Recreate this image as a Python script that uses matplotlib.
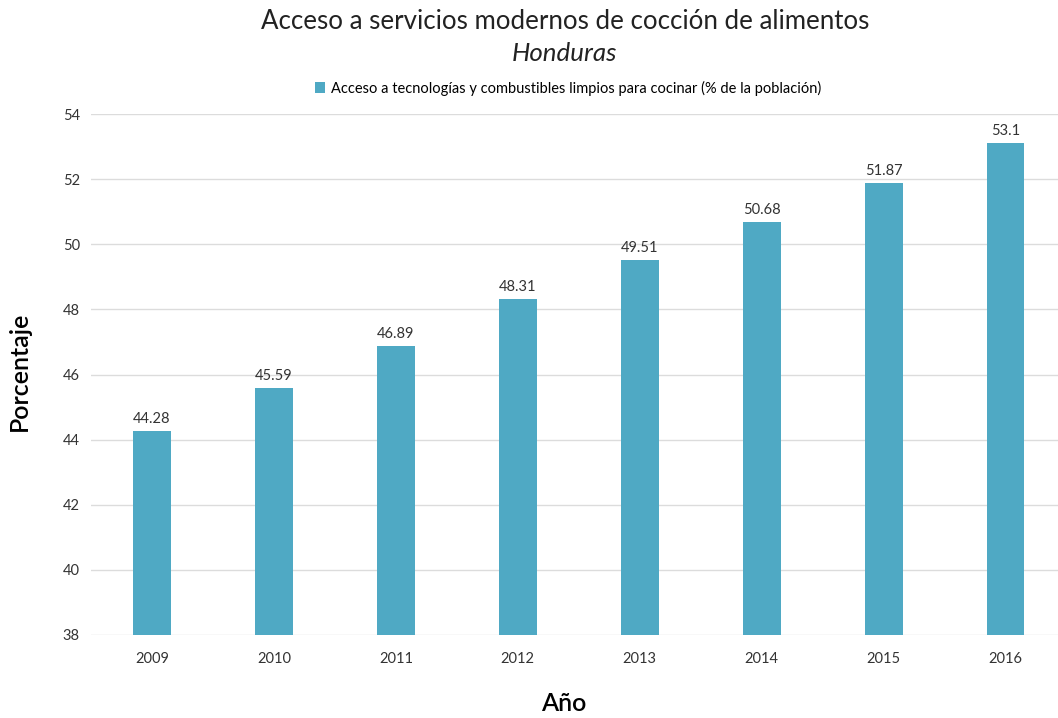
import matplotlib.pyplot as plt

years = ['2009', '2010', '2011', '2012', '2013', '2014', '2015', '2016']
values = [44.28, 45.59, 46.89, 48.31, 49.51, 50.68, 51.87, 53.1]
labels = ['44.28', '45.59', '46.89', '48.31', '49.51', '50.68', '51.87', '53.1']
yticks = [38, 40, 42, 44, 46, 48, 50, 52, 54]

plt.rcParams['font.family'] = ['Lato', 'DejaVu Sans']

fig = plt.figure(figsize=(10.58, 7.18), dpi=100)
ax = fig.add_axes([0.086, 0.1156, 0.914, 0.7256])

x = list(range(len(years)))
bars = ax.bar(x, values, width=0.31, color='#4FA9C4', zorder=3,
              label='Acceso a tecnologías y combustibles limpios para cocinar (% de la población)')

for xi, v, lab in zip(x, values, labels):
    ax.text(xi, v + 0.15, lab, ha='center', va='bottom', fontsize=10.5, color='#333333')

ax.set_ylim(38, 54)
ax.set_xlim(-0.5, 7.43)
ax.set_yticks(yticks)
ax.set_xticks(x)
ax.set_xticklabels(years)
ax.tick_params(axis='both', length=0, labelsize=10.5, labelcolor='#333333')
ax.tick_params(axis='x', pad=12)
ax.tick_params(axis='y', pad=8)
ax.grid(axis='y', color='#dcdcdc', linewidth=1, zorder=0)
for s in ax.spines.values():
    s.set_visible(False)

fig.text(0.534, 0.97, 'Acceso a servicios modernos de cocción de alimentos',
         ha='center', va='center', fontsize=18.6, color='#222222')
fig.text(0.534, 0.925, 'Honduras', ha='center', va='center', fontsize=18.6,
         style='italic', color='#222222')
ax.legend(loc='center', bbox_to_anchor=(0.4935, 1.05), frameon=False,
          fontsize=10.5, handlelength=0.7, handleheight=0.7, handletextpad=0.4,
          borderaxespad=0)

fig.text(0.018, 0.483, 'Porcentaje', rotation=90, ha='center', va='center',
         fontsize=18, fontweight='semibold')
fig.text(0.533, 0.02, 'Año', ha='center', va='center', fontsize=18,
         fontweight='semibold')

fig.savefig('out.png', dpi=100)
